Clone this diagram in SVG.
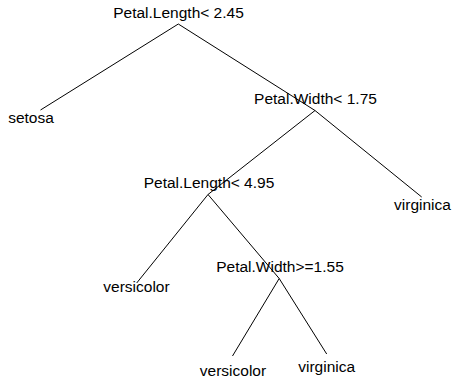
<svg xmlns="http://www.w3.org/2000/svg" width="453" height="378" viewBox="0 0 453 378">
<style>
.bg{fill:#ffffff}
.e{stroke:#000;stroke-width:1;fill:none}
text{font-family:"Liberation Sans",Arial,sans-serif;font-size:15.5px;fill:#000;text-anchor:middle}
</style>
<rect class="bg" x="0" y="0" width="453" height="378"/>
<g id="connectors">
<line class="e" x1="178.3" y1="24" x2="40.5" y2="110"/>
<line class="e" x1="178.3" y1="24" x2="315" y2="110.5"/>
<line class="e" x1="315" y1="110.5" x2="208" y2="194.5"/>
<line class="e" x1="315" y1="110.5" x2="421.7" y2="197"/>
<line class="e" x1="208" y1="194.5" x2="136.7" y2="283"/>
<line class="e" x1="208" y1="194.5" x2="279.2" y2="278.5"/>
<line class="e" x1="279.2" y1="278.5" x2="232.5" y2="356"/>
<line class="e" x1="279.2" y1="278.5" x2="326.7" y2="354"/>
</g>
<g id="n_root"><text x="178.5" y="18">Petal.Length&lt; 2.45</text></g>
<g id="n_setosa"><text x="31" y="123">setosa</text></g>
<g id="n_pw175"><text x="315.5" y="104">Petal.Width&lt; 1.75</text></g>
<g id="n_virginica1"><text x="422.5" y="210">virginica</text></g>
<g id="n_pl495"><text x="209" y="188">Petal.Length&lt; 4.95</text></g>
<g id="n_versicolor1"><text x="136.5" y="292">versicolor</text></g>
<g id="n_pw155"><text x="280" y="272">Petal.Width&gt;=1.55</text></g>
<g id="n_versicolor2"><text x="233" y="376">versicolor</text></g>
<g id="n_virginica2"><text x="326.7" y="372">virginica</text></g>
</svg>
